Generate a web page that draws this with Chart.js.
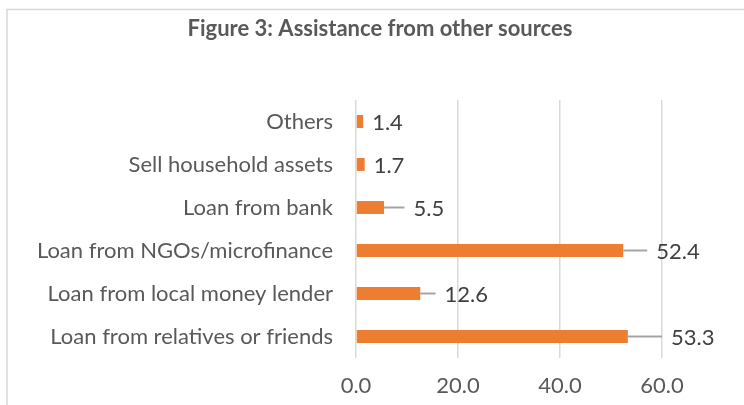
<!DOCTYPE html>
<html>
<head>
<meta charset="utf-8">
<script src="https://cdn.jsdelivr.net/npm/chart.js@4/dist/chart.umd.min.js"></script>
<style>
  html, body { margin: 0; padding: 0; background: #fff; overflow: hidden; }
  #wrap { width: 744px; height: 405px; position: relative; }
</style>
</head>
<body>
<div id="wrap"><canvas id="sources"></canvas></div>
<script>
var chartTitle = 'Figure 3: Assistance from other sources';
var categories = ['Others', 'Sell household assets', 'Loan from bank',
    'Loan from NGOs/microfinance', 'Loan from local money lender',
    'Loan from relatives or friends'];
var shares = [1.4, 1.7, 5.5, 52.4, 12.6, 53.3];
var plusErrors = [0, 0, 4.0, 4.7, 3.0, 6.7];
var axisMin = 0;
var axisMax = 60;
var axisStep = 20;

var FONT = 'Lato, "Open Sans", sans-serif';

// light gray frame around the whole figure, plus the heading
var frame = {
    id: 'frame',
    beforeDraw: function (chart) {
        var ctx = chart.ctx;
        ctx.save();
        ctx.strokeStyle = '#D9D9D9';
        ctx.lineWidth = 1.5;
        ctx.strokeRect(7, 9.5, 900, 600);
        ctx.fillStyle = '#595959';
        ctx.font = 'bold 22px ' + FONT;
        ctx.textAlign = 'center';
        ctx.textBaseline = 'alphabetic';
        ctx.fillText(chartTitle, 380, 36);
        ctx.restore();
    }
};

// plus-only error bars, with the value written after each one
var errorBars = {
    id: 'errorBars',
    afterDatasetsDraw: function (chart) {
        var ctx = chart.ctx;
        var xs = chart.scales.x;
        var bars = chart.getDatasetMeta(0).data;
        ctx.save();
        bars.forEach(function (bar, i) {
            var x0 = xs.getPixelForValue(shares[i]);
            var x1 = xs.getPixelForValue(shares[i] + plusErrors[i]);
            if (plusErrors[i] > 0) {
                ctx.strokeStyle = '#A5A5A5';
                ctx.lineWidth = 2;
                ctx.beginPath();
                ctx.moveTo(x0, bar.y);
                ctx.lineTo(x1, bar.y);
                ctx.stroke();
            }
            ctx.fillStyle = '#404040';
            ctx.font = '22px ' + FONT;
            ctx.textAlign = 'left';
            ctx.textBaseline = 'middle';
            ctx.fillText(shares[i].toFixed(1), x1 + 9, bar.y + 1);
        });
        ctx.restore();
    }
};

var sourcesChart = new Chart(document.getElementById('sources'), {
    type: 'bar',
    data: {
        labels: categories,
        datasets: [{
            data: shares,
            backgroundColor: '#ED7D31',
            borderWidth: 0,
            barPercentage: 0.3,
            categoryPercentage: 1,
        }]
    },
    options: {
        indexAxis: 'y',
        responsive: true,
        maintainAspectRatio: false,
        animation: false,
        layout: {
            padding: { left: 0, right: 82, top: 100, bottom: 0 }
        },
        plugins: {
            legend: { display: false },
            tooltip: { enabled: false },
            title: { display: false },
        },
        scales: {
            x: {
                min: axisMin,
                max: axisMax,
                grid: {
                    color: '#D9D9D9',
                    lineWidth: 1.5,
                    drawTicks: false,
                },
                border: { display: false },
                ticks: {
                    stepSize: axisStep,
                    padding: 15,
                    color: '#595959',
                    font: { family: FONT, size: 22 },
                    callback: function (value) {
                        return value.toFixed(1);
                    },
                },
                afterFit: function (scale) {
                    scale.height = 47;
                },
            },
            y: {
                grid: { display: false, drawTicks: false },
                border: { display: false },
                ticks: {
                    padding: 23,
                    color: '#595959',
                    font: { family: FONT, size: 22 },
                },
                afterFit: function (scale) {
                    scale.width = 356;
                },
            },
        }
    },
    plugins: [frame, errorBars]
});
</script>
</body>
</html>
